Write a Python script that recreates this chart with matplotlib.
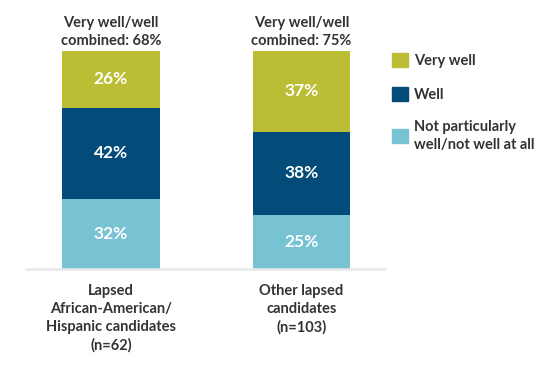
import matplotlib
matplotlib.use("Agg")
import matplotlib.pyplot as plt
from matplotlib.patches import Patch

plt.rcParams['font.family'] = ['Lato', 'DejaVu Sans']

# data
groups = ["Lapsed\nAfrican-American/\nHispanic candidates\n(n=62)",
          "Other lapsed\ncandidates\n(n=103)"]
combined = ["Very well/well\ncombined: 68%", "Very well/well\ncombined: 75%"]
not_well = [32, 25]
well = [42, 38]
very_well = [26, 37]
series_names = ["Very well", "Well", "Not particularly\nwell/not well at all"]
colors = ["#bbbe34", "#034c7a", "#77c2d3"]
TEXT = "#333333"

fig = plt.figure(figsize=(5.45, 3.67), dpi=100)
ax = fig.add_axes([0.0477, 0.267, 0.6587, 0.594])

x = [0, 1]
w = 0.514
bottoms = [0, 0]
stacks = [(not_well, colors[2]), (well, colors[1]), (very_well, colors[0])]
for vals, col in stacks:
    bars = ax.bar(x, vals, w, bottom=bottoms, color=col)
    for b, v, bt in zip(bars, vals, bottoms):
        ax.text(b.get_x() + b.get_width() / 2, bt + v / 2, f"{v}%",
                ha='center', va='center', color='white',
                fontsize=12.5, fontweight='bold')
    bottoms = [bt + v for bt, v in zip(bottoms, vals)]

# combined header above each bar
for xi, t, top in zip(x, combined, bottoms):
    ax.text(xi, top + 1.5, t, ha='center', va='bottom', color=TEXT,
            fontsize=10.5, fontweight='bold', linespacing=1.35)

ax.set_xlim(-0.446, 1.438)
ax.set_ylim(0, 100)
ax.set_xticks(x)
ax.set_xticklabels(groups, fontsize=10.5, color=TEXT, fontweight='bold',
                   linespacing=1.35)
ax.tick_params(axis='x', length=0, pad=11)
ax.set_yticks([])
for s in ['top', 'right', 'left']:
    ax.spines[s].set_visible(False)
ax.spines['bottom'].set_color('#e8e8e8')
ax.spines['bottom'].set_linewidth(1.8)

handles = [Patch(color=c) for c in colors]
leg = fig.legend(handles, series_names, loc='upper left',
                 bbox_to_anchor=(0.696, 0.89), frameon=False,
                 handlelength=1.1, handleheight=1.1, handletextpad=0.4,
                 labelspacing=1.25, prop={'size': 10.5, 'weight': 'bold'})
for t in leg.get_texts():
    t.set_color(TEXT)
    t.set_linespacing(1.35)

fig.savefig("out.png", dpi=100)
